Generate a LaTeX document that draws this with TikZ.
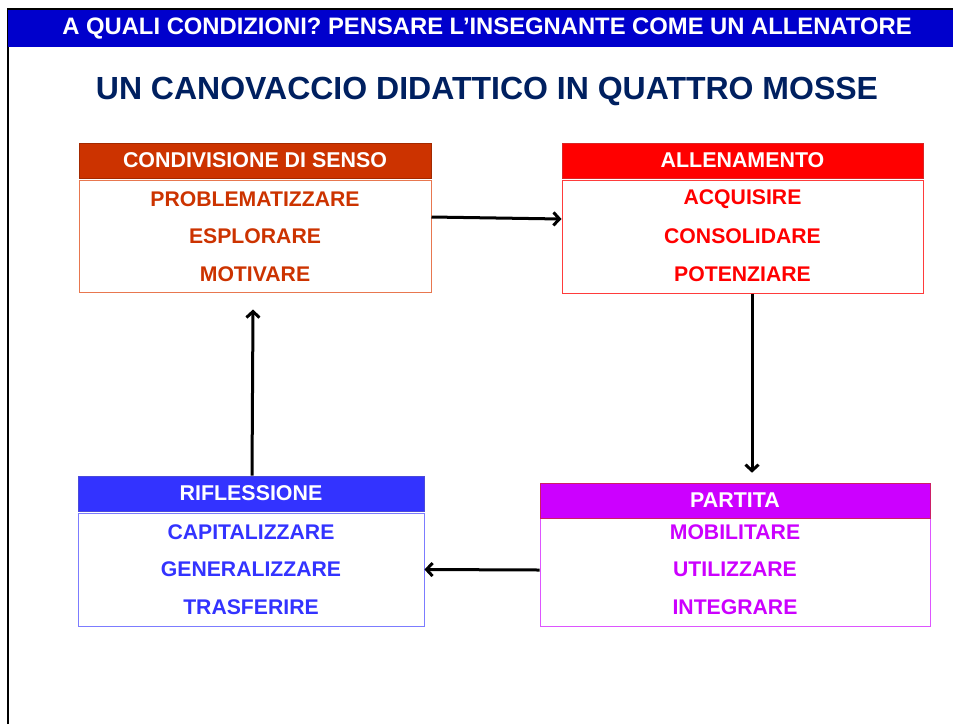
\documentclass[tikz,border=0pt]{standalone}
\usepackage{fontspec}
\setmainfont{Liberation Sans}
\usetikzlibrary{arrows.meta}
\definecolor{barblue}{HTML}{0000CC}
\definecolor{navy}{HTML}{002060}
\definecolor{senso}{HTML}{CC3300}
\definecolor{sensoline}{HTML}{E8774F}
\definecolor{allen}{HTML}{FF0000}
\definecolor{allenline}{HTML}{FF3B3B}
\definecolor{partita}{HTML}{CC00FF}
\definecolor{partitaline}{HTML}{DD55FF}
\definecolor{rifl}{HTML}{3333FF}
\definecolor{riflline}{HTML}{7C7CFF}
\tikzset{>={Straight Barb[length=6pt,width=13pt]},
  head/.style={inner sep=0pt, text=white, font=\fontsize{21.4}{24}\selectfont\bfseries, minimum height=35pt},
  body/.style={inner sep=0pt, fill=white, line width=1pt},
  item/.style={inner sep=0pt, font=\fontsize{21.2}{24}\selectfont\bfseries},
  arr/.style={->, line width=3pt}}

\begin{document}
\begin{tikzpicture}[x=1pt,y=-1pt]
\useasboundingbox (0,0) rectangle (953,724);
% frame and title bar
\draw[line width=2pt] (8,724) -- (8,9) -- (953,9);
\node[fill=barblue, minimum width=945pt, minimum height=37pt, inner sep=0pt, anchor=north west] (bar) at (8,10) {};
\node[text=white, font=\fontsize{23.8}{26}\selectfont\bfseries] (titolo) at (487,28.5) {A QUALI CONDIZIONI? PENSARE L’INSEGNANTE COME UN ALLENATORE};
\node[text=navy, font=\fontsize{32}{36}\selectfont\bfseries] (sottotitolo) at (487,91) {UN CANOVACCIO DIDATTICO IN QUATTRO MOSSE};

% condivisione di senso
\node[body, draw=sensoline, minimum width=352pt, minimum height=112pt] (senso) at (255,236) {};
\node[head, fill=senso, draw=senso!80!black, line width=0.6pt, minimum width=352pt] (sensoh) at (255,160.5) {CONDIVISIONE DI SENSO};
\foreach \w [count=\i] in {PROBLEMATIZZARE,ESPLORARE,MOTIVARE}
  \node[item, text=senso] (senso\i) at (255,199+37.5*\i-37.5) {\w};

% allenamento
\node[body, draw=allenline, minimum width=361pt, minimum height=113pt] (allen) at (742.5,236.5) {};
\node[head, fill=allen, draw=allen!70!gray, line width=0.6pt, minimum width=361pt] (allenh) at (742.5,160.5) {ALLENAMENTO};
\foreach \w [count=\i] in {ACQUISIRE,CONSOLIDARE,POTENZIARE}
  \node[item, text=allen] (allen\i) at (742.5,199+37.5*\i-37.5) {\w};

% partita
\node[body, draw=partitaline, minimum width=390pt, minimum height=108pt] (partita) at (735,572) {};
\node[head, fill=partita, draw=senso!60!partita, line width=0.6pt, minimum width=390pt] (partitah) at (735,500.5) {PARTITA};
\foreach \w [count=\i] in {MOBILITARE,UTILIZZARE,INTEGRARE}
  \node[item, text=partita] (partita\i) at (735,532+37.5*\i-37.5) {\w};

% riflessione
\node[body, draw=riflline, minimum width=346pt, minimum height=113pt] (rifl) at (251,569.5) {};
\node[head, fill=rifl, draw=rifl!70!gray, line width=0.6pt, minimum width=346pt] (riflh) at (251,493.5) {RIFLESSIONE};
\foreach \w [count=\i] in {CAPITALIZZARE,GENERALIZZARE,TRASFERIRE}
  \node[item, text=rifl] (rifl\i) at (251,532+37.5*\i-37.5) {\w};

% le quattro mosse
\draw[arr] ([yshift=19pt]senso.east) -- ([yshift=17.5pt]allen.west);
\draw[arr] ([xshift=9.5pt]allen.south) -- ([xshift=17pt,yshift=10pt]partitah.north);
\draw[arr] ([yshift=2pt]partita.west) -- (rifl.east);
\draw[arr] ([xshift=1pt]riflh.north) -- ([xshift=-2pt,yshift=-17pt]senso.south);
\end{tikzpicture}
\end{document}
